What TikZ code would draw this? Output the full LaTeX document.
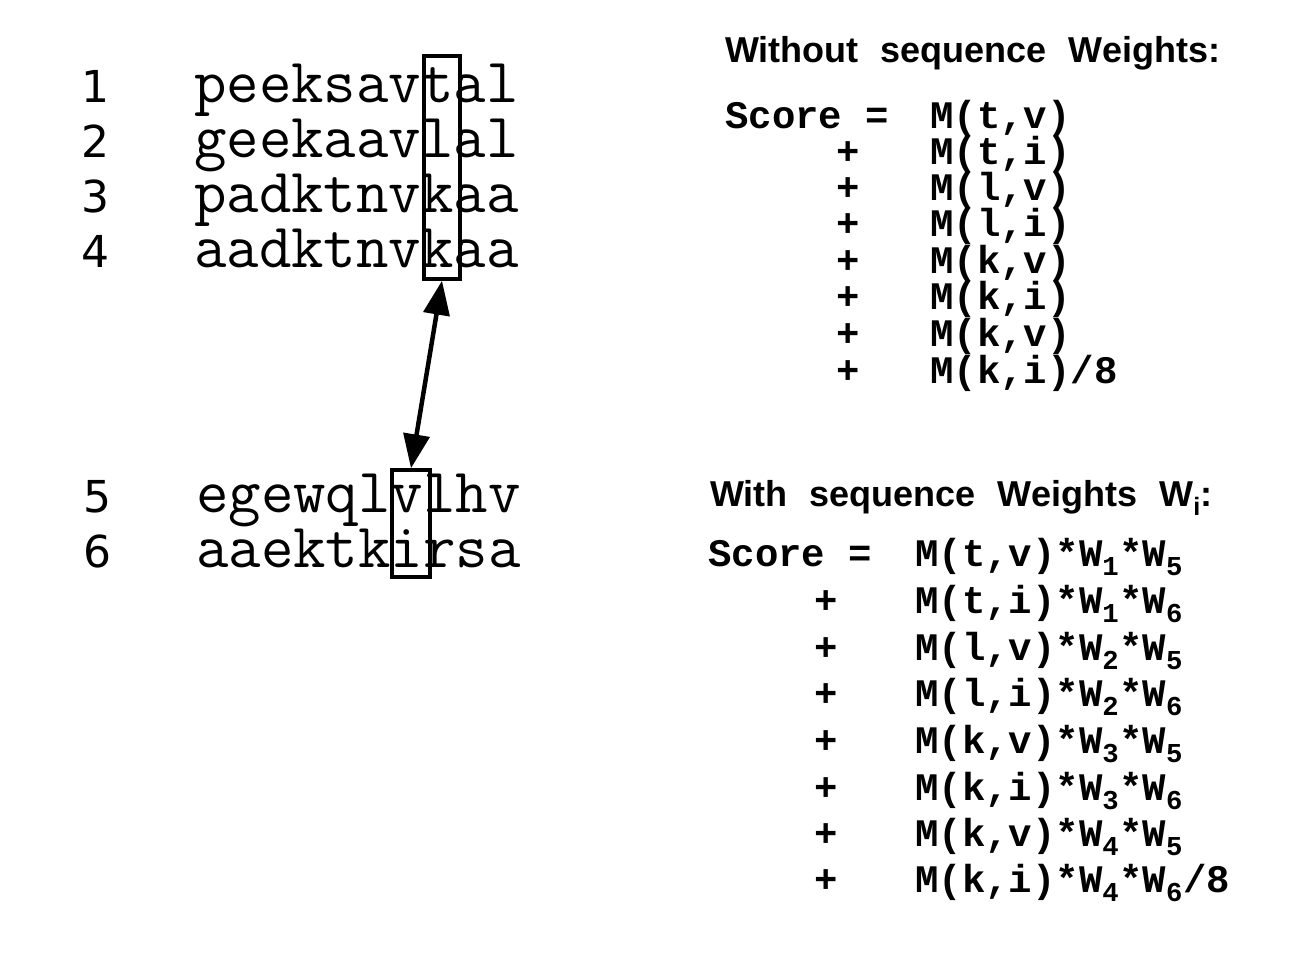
\documentclass[tikz,border=0pt]{standalone}
\usepackage{fontspec}
\usepackage{tikz}
\usetikzlibrary{arrows.meta}
\newfontfamily\numfont{DejaVu Sans}
\newfontfamily\headfont[WordSpace=2.2]{Liberation Sans}
\newfontfamily\scorefont{Liberation Mono}

\tikzset{
  seqnum/.style={anchor=base, inner sep=0pt, font=\numfont\fontsize{44}{44}\selectfont},
  seqtext/.style={anchor=base west, inner sep=0pt, font=\ttfamily\fontsize{63}{63}\selectfont},
  colbox/.style={draw, line width=3.5pt, inner sep=0pt},
  heading/.style={anchor=base west, inner sep=0pt, font=\headfont\bfseries\fontsize{36}{36}\selectfont},
  term/.style={anchor=base west, inner sep=0pt, font=\scorefont\bfseries\fontsize{39}{39}\selectfont},
  plus/.style={anchor=base, inner sep=0pt, font=\scorefont\bfseries\fontsize{39}{39}\selectfont}
}

\begin{document}
\begin{tikzpicture}[x=1pt, y=-1pt]
\useasboundingbox (0,0) rectangle (1304,954);

% alignment, first group
\node[seqnum] (n1) at (95,102) {1};
\node[seqnum] (n2) at (95,157) {2};
\node[seqnum] (n3) at (95,212) {3};
\node[seqnum] (n4) at (95,267) {4};
\node[seqtext] (s1) at (194,102) {peeksavtal};
\node[seqtext] (s2) at (194,157) {geekaavlal};
\node[seqtext] (s3) at (194,212) {padktnvkaa};
\node[seqtext] (s4) at (194,267) {aadktnvkaa};

% second group
\node[seqnum] (n5) at (97,512) {5};
\node[seqnum] (n6) at (97,567) {6};
\node[seqtext] (s5) at (196,512) {egewqlvlhv};
\node[seqtext] (s6) at (196,567) {aaektkirsa};

% columns compared
\node[colbox, minimum width=36pt, minimum height=223pt] (boxA) at (442,167.5) {};
\node[colbox, minimum width=38pt, minimum height=107pt] (boxB) at (411,523.5) {};
\draw[{Triangle[length=34pt,width=26pt]}-{Triangle[length=34pt,width=26pt]}, line width=4.5pt]
  (boxA.south) -- (boxB.north);

% without weights
\node[heading] (headA) at (725,62) {Without sequence Weights:};
\node[term] (scoreA) at (725,128) {Score =};
\node[term] (termA1) at (930,128) {M(t,v)};
\node[plus] (plusA2) at (848,164) {+};
\node[term] (termA2) at (930,164) {M(t,i)};
\node[plus] (plusA3) at (848,200) {+};
\node[term] (termA3) at (930,200) {M(l,v)};
\node[plus] (plusA4) at (848,236) {+};
\node[term] (termA4) at (930,236) {M(l,i)};
\node[plus] (plusA5) at (848,273) {+};
\node[term] (termA5) at (930,273) {M(k,v)};
\node[plus] (plusA6) at (848,309) {+};
\node[term] (termA6) at (930,309) {M(k,i)};
\node[plus] (plusA7) at (848,346) {+};
\node[term] (termA7) at (930,346) {M(k,v)};
\node[plus] (plusA8) at (848,383) {+};
\node[term] (termA8) at (930,383) {M(k,i)/8};

% with weights
\node[heading] (headB) at (710,506) {With sequence Weights W\textsubscript{i}:};
\node[term] (scoreB) at (708,566) {Score =};
\node[term] (termB1) at (915,566) {M(t,v)*W\textsubscript{1}*W\textsubscript{5}};
\node[plus] (plusB2) at (826,613) {+};
\node[term] (termB2) at (915,613) {M(t,i)*W\textsubscript{1}*W\textsubscript{6}};
\node[plus] (plusB3) at (826,660) {+};
\node[term] (termB3) at (915,660) {M(l,v)*W\textsubscript{2}*W\textsubscript{5}};
\node[plus] (plusB4) at (826,706) {+};
\node[term] (termB4) at (915,706) {M(l,i)*W\textsubscript{2}*W\textsubscript{6}};
\node[plus] (plusB5) at (826,753) {+};
\node[term] (termB5) at (915,753) {M(k,v)*W\textsubscript{3}*W\textsubscript{5}};
\node[plus] (plusB6) at (826,800) {+};
\node[term] (termB6) at (915,800) {M(k,i)*W\textsubscript{3}*W\textsubscript{6}};
\node[plus] (plusB7) at (826,846) {+};
\node[term] (termB7) at (915,846) {M(k,v)*W\textsubscript{4}*W\textsubscript{5}};
\node[plus] (plusB8) at (826,892) {+};
\node[term] (termB8) at (915,892) {M(k,i)*W\textsubscript{4}*W\textsubscript{6}/8};
\end{tikzpicture}
\end{document}
